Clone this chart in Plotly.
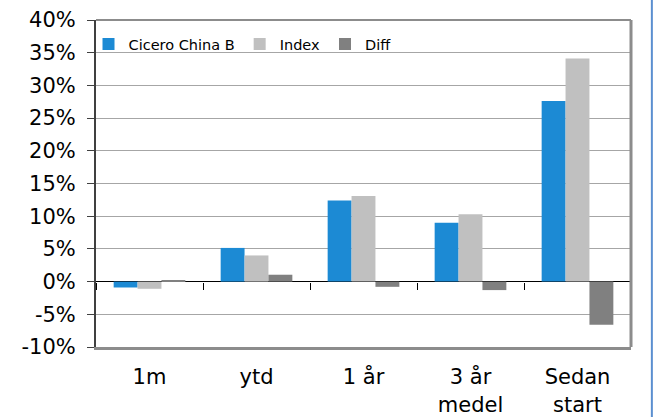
import plotly.graph_objects as go

categories = ["1m", "ytd", "1 år", "3 år<br>medel", "Sedan<br>start"]
fund = [-0.9, 5.15, 12.4, 9.0, 27.6]
index_vals = [-1.1, 4.0, 13.1, 10.3, 34.1]
diff = [0.15, 1.05, -0.8, -1.3, -6.6]
series_names = ["Cicero China B", "Index", "Diff"]
colors = ["#1C8AD4", "#C0C0C0", "#808080"]
y_ticks = list(range(-10, 45, 5))

FONT = "DejaVu Sans"
fig = go.Figure()
for name, vals, col in zip(series_names, [fund, index_vals, diff], colors):
    fig.add_trace(go.Bar(x=categories, y=vals, name=name, marker_color=col,
                         marker_line_width=0))
# helper trace for boundary ticks on the zero line
fig.add_trace(go.Scatter(x=categories, y=[0] * len(categories), xaxis="x2",
                         mode="markers", marker=dict(opacity=0), showlegend=False,
                         hoverinfo="skip"))

fig.update_layout(
    width=654, height=417,
    margin=dict(l=96, r=23, t=20, b=70),
    paper_bgcolor="white", plot_bgcolor="white",
    font=dict(family=FONT, size=21, color="black"),
    barmode="group", bargap=0.33, bargroupgap=0,
    showlegend=True,
    legend=dict(orientation="h", x=-0.014, y=0.975, xanchor="left", yanchor="top",
                font=dict(size=14.5), bgcolor="rgba(0,0,0,0)", itemwidth=30,
                traceorder="normal"),
    xaxis=dict(showgrid=False, showline=True, linecolor="#8C8C8C", linewidth=3,
               ticks="outside", ticklen=9, tickcolor="rgba(0,0,0,0)",
               tickfont=dict(size=21), automargin=False, fixedrange=True),
    xaxis2=dict(overlaying="x", anchor="free", position=0.2, matches="x",
                tickson="boundaries", ticks="outside", ticklen=7, tickcolor="#000",
                tickwidth=1, showticklabels=False, showgrid=False, showline=False,
                automargin=False),
    yaxis=dict(range=[-10, 40], tickvals=y_ticks,
               ticktext=[f"{v}%" for v in y_ticks],
               showgrid=True, gridcolor="#A6A6A6", gridwidth=1.3,
               zeroline=True, zerolinecolor="black", zerolinewidth=1,
               showline=True, linecolor="#404040", linewidth=2,
               ticks="outside", ticklen=7, tickcolor="#404040",
               ticklabelstandoff=7, tickfont=dict(size=21), automargin=False),
    shapes=[
        dict(type="line", xref="paper", yref="paper", x0=0, x1=1, y0=1, y1=1,
             line=dict(color="#8C8C8C", width=2)),
        dict(type="line", xref="paper", yref="paper", x0=1, x1=1, y0=0, y1=1,
             line=dict(color="#8C8C8C", width=3)),
        dict(type="line", xref="paper", yref="paper", x0=1.039, x1=1.039, y0=-0.3, y1=1.1,
             line=dict(color="#5B8FD0", width=2)),
    ],
)
fig.write_html("out.html", config={"displayModeBar": False},
               post_script="document.body.style.margin='0';document.body.style.overflow='hidden';")
